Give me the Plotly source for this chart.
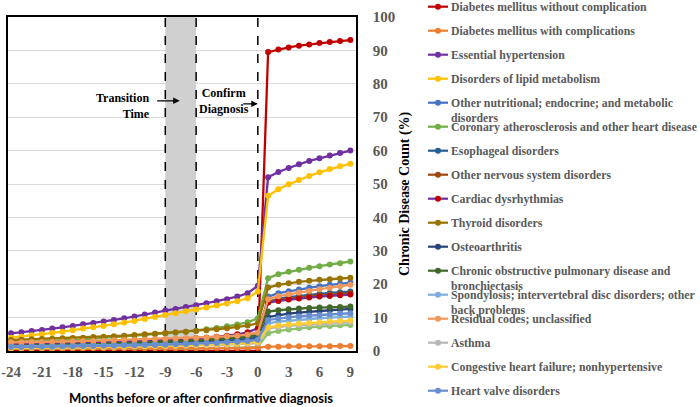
import plotly.graph_objects as go

# months relative to confirmative diagnosis
months = list(range(-24, 10))

# x ticks (plain hyphen like the original)
tick_months = [-24, -21, -18, -15, -12, -9, -6, -3, 0, 3, 6, 9]
tick_labels = ["-24", "-21", "-18", "-15", "-12", "-9", "-6", "-3", "0", "3", "6", "9"]

# ---------------- series values (% of patients), months -24 .. 9 ----------------
dm_no_comp = [0.0, 0.0, 0.0, 0.0, 0.0, 0.0, 0.0, 0.0, 0.0, 0.0, 0.0, 0.0,
              0.0, 0.0, 0.0, 0.0, 0.0, 0.0, 0.0, 0.0, 0.0, 0.0, 0.0, 0.0, 0.0,
              89.5, 90.3, 90.9, 91.4, 91.8, 92.2, 92.5, 92.8, 93.1]
dm_comp = [0.7, 0.7, 0.7, 0.7, 0.7, 0.7, 0.7, 0.7, 0.8, 0.8, 0.8, 0.8,
           0.8, 0.8, 0.8, 0.8, 0.8, 0.8, 0.8, 0.9, 0.9, 0.9, 0.9, 0.9, 1.0,
           1.3, 1.3, 1.4, 1.4, 1.4, 1.4, 1.4, 1.5, 1.5]
hypertension = [5.3, 5.6, 6.0, 6.3, 6.7, 7.1, 7.5, 8.0, 8.4, 8.8, 9.3, 9.8,
                10.3, 10.9, 11.5, 12.1, 12.6, 13.2, 13.7, 14.3, 14.9, 15.5, 16.3, 17.3, 19.5,
                52.0, 53.6, 54.8, 55.9, 56.9, 57.7, 58.5, 59.3, 60.0]
lipid = [4.0, 4.3, 4.7, 5.0, 5.4, 5.8, 6.2, 6.7, 7.1, 7.5, 8.0, 8.5,
         9.0, 9.6, 10.2, 10.8, 11.3, 11.9, 12.4, 13.0, 13.6, 14.2, 14.9, 15.8, 17.8,
         46.5, 48.4, 49.9, 51.2, 52.4, 53.5, 54.5, 55.3, 56.1]
nutritional = [1.9, 1.9, 2.0, 2.0, 2.0, 2.1, 2.1, 2.2, 2.2, 2.3, 2.3, 2.4,
               2.4, 2.5, 2.5, 2.6, 2.7, 2.7, 2.8, 2.9, 3.0, 3.1, 3.2, 3.4, 3.8,
               16.3, 17.3, 17.9, 18.4, 18.9, 19.4, 19.8, 20.2, 20.5]
coronary = [2.5, 2.6, 2.7, 2.9, 3.0, 3.2, 3.3, 3.5, 3.7, 3.9, 4.1, 4.3,
            4.5, 4.7, 5.0, 5.2, 5.5, 5.8, 6.1, 6.5, 6.9, 7.4, 7.9, 8.6, 9.8,
            21.8, 23.0, 23.7, 24.3, 24.9, 25.4, 25.9, 26.3, 26.8]
esophageal = [1.6, 1.7, 1.7, 1.8, 1.8, 1.9, 2.0, 2.0, 2.1, 2.2, 2.2, 2.3,
              2.4, 2.5, 2.6, 2.7, 2.8, 2.9, 3.0, 3.1, 3.3, 3.4, 3.6, 3.8, 4.4,
              14.6, 15.6, 16.1, 16.5, 16.8, 17.1, 17.4, 17.6, 17.8]
nervous = [2.2, 2.3, 2.3, 2.4, 2.4, 2.5, 2.6, 2.6, 2.7, 2.8, 2.9, 3.0,
           3.1, 3.2, 3.3, 3.4, 3.5, 3.7, 3.8, 4.0, 4.1, 4.3, 4.5, 4.8, 5.4,
           14.8, 15.3, 15.7, 16.0, 16.3, 16.6, 16.9, 17.1, 17.3]
cardiac = [1.9, 2.0, 2.0, 2.1, 2.2, 2.2, 2.3, 2.4, 2.5, 2.6, 2.7, 2.8,
           2.9, 3.0, 3.2, 3.3, 3.5, 3.6, 3.8, 4.0, 4.3, 4.6, 5.0, 5.6, 6.8,
           14.5, 15.0, 15.4, 15.7, 16.0, 16.3, 16.5, 16.7, 16.9]
thyroid = [3.3, 3.4, 3.5, 3.6, 3.7, 3.8, 3.9, 4.0, 4.2, 4.3, 4.4, 4.6,
           4.8, 5.0, 5.2, 5.4, 5.6, 5.8, 6.0, 6.2, 6.5, 6.8, 7.2, 7.6, 8.3,
           19.0, 19.8, 20.3, 20.7, 21.0, 21.3, 21.5, 21.7, 21.9]
osteo = [1.3, 1.3, 1.4, 1.4, 1.5, 1.5, 1.6, 1.6, 1.7, 1.7, 1.8, 1.8,
         1.9, 2.0, 2.0, 2.1, 2.2, 2.3, 2.4, 2.5, 2.6, 2.8, 3.0, 3.2, 3.6,
         10.2, 10.8, 11.2, 11.5, 11.8, 12.0, 12.2, 12.4, 12.6]
copd = [1.5, 1.6, 1.6, 1.7, 1.7, 1.8, 1.9, 1.9, 2.0, 2.1, 2.2, 2.3,
        2.4, 2.5, 2.6, 2.7, 2.8, 3.0, 3.1, 3.3, 3.5, 3.7, 4.0, 4.3, 5.0,
        11.8, 12.2, 12.5, 12.7, 12.9, 13.0, 13.1, 13.2, 13.3]
spondylosis = [1.4, 1.4, 1.5, 1.5, 1.5, 1.6, 1.6, 1.7, 1.7, 1.7, 1.8, 1.8,
               1.9, 1.9, 2.0, 2.0, 2.1, 2.2, 2.2, 2.3, 2.4, 2.5, 2.6, 2.8, 3.1,
               8.3, 8.8, 9.1, 9.4, 9.6, 9.8, 10.0, 10.2, 10.3]
residual = [2.6, 2.6, 2.7, 2.7, 2.8, 2.8, 2.9, 3.0, 3.0, 3.1, 3.2, 3.3,
            3.3, 3.4, 3.5, 3.6, 3.7, 3.8, 3.9, 4.0, 4.2, 4.4, 4.6, 4.9, 5.5,
            15.5, 16.4, 17.0, 17.5, 18.0, 18.5, 18.9, 19.4, 19.8]
asthma = [1.0, 1.0, 1.0, 1.1, 1.1, 1.1, 1.2, 1.2, 1.2, 1.3, 1.3, 1.3,
          1.4, 1.4, 1.5, 1.5, 1.6, 1.6, 1.7, 1.7, 1.8, 1.9, 2.0, 2.1, 2.3,
          6.8, 7.2, 7.5, 7.7, 7.9, 8.1, 8.3, 8.5, 8.6]
chf = [0.9, 0.9, 1.0, 1.0, 1.0, 1.1, 1.1, 1.2, 1.2, 1.2, 1.3, 1.3,
       1.4, 1.4, 1.5, 1.5, 1.6, 1.7, 1.8, 1.9, 2.0, 2.1, 2.2, 2.4, 2.7,
       7.1, 7.6, 7.9, 8.2, 8.4, 8.6, 8.8, 9.0, 9.1]
heart_valve = [1.2, 1.2, 1.3, 1.3, 1.3, 1.4, 1.4, 1.5, 1.5, 1.6, 1.6, 1.7,
               1.7, 1.8, 1.8, 1.9, 2.0, 2.1, 2.2, 2.3, 2.4, 2.6, 2.8, 3.0, 3.4,
               9.3, 9.8, 10.1, 10.4, 10.6, 10.8, 11.0, 11.2, 11.3]
# extra series whose legend entry is cut off in the original
extra = [0.5, 0.5, 0.5, 0.5, 0.5, 0.5, 0.6, 0.6, 0.6, 0.6, 0.6, 0.6,
         0.7, 0.7, 0.7, 0.7, 0.7, 0.8, 0.8, 0.8, 0.9, 0.9, 1.0, 1.1, 1.2,
         5.3, 6.0, 6.4, 6.8, 7.1, 7.3, 7.5, 7.7, 7.8]

# (name, values, line colour, marker colour)
series = [
    ("Diabetes mellitus without complication", dm_no_comp, "#C00000", "#C00000"),
    ("Diabetes mellitus with complications", dm_comp, "#ED7D31", "#ED7D31"),
    ("Essential hypertension", hypertension, "#7030A0", "#7030A0"),
    ("Disorders of lipid metabolism", lipid, "#FFC000", "#FFC000"),
    ("Other nutritional; endocrine; and metabolic<br>disorders", nutritional, "#4472C4", "#4472C4"),
    ("Coronary atherosclerosis and other heart disease", coronary, "#70AD47", "#70AD47"),
    ("Esophageal disorders", esophageal, "#255E91", "#255E91"),
    ("Other nervous system disorders", nervous, "#9E480E", "#9E480E"),
    ("Cardiac dysrhythmias", cardiac, "#7030A0", "#C00000"),
    ("Thyroid disorders", thyroid, "#997300", "#997300"),
    ("Osteoarthritis", osteo, "#264478", "#264478"),
    ("Chronic obstructive pulmonary disease and<br>bronchiectasis", copd, "#43682B", "#43682B"),
    ("Spondylosis; intervertebral disc disorders; other<br>back problems", spondylosis, "#7CAFDD", "#7CAFDD"),
    ("Residual codes; unclassified", residual, "#F1975A", "#F1975A"),
    ("Asthma", asthma, "#B7B7B7", "#B7B7B7"),
    ("Congestive heart failure; nonhypertensive", chf, "#FFCD33", "#FFCD33"),
    ("Heart valve disorders", heart_valve, "#698ED0", "#698ED0"),
]

W, H = 700, 407
L, R, T, B = 8, 344, 17, 56
PW, PH = W - L - R, H - T - B

fig = go.Figure()
fig.add_trace(go.Scatter(x=months, y=extra, mode="lines+markers", name="Other",
                         line=dict(color="#8CC168", width=2.3),
                         marker=dict(color="#8CC168", size=6), showlegend=False))
for name, vals, lc, mc in series:
    fig.add_trace(go.Scatter(x=months, y=vals, mode="lines+markers",
                             name=name.replace("<br>", " "),
                             line=dict(color=lc, width=2.3),
                             marker=dict(color=mc, size=6), showlegend=False))

serif = "Liberation Serif"
gray = "#595959"

# shaded transition window and dashed markers
fig.add_shape(type="rect", xref="x", yref="y", x0=-9, x1=-6, y0=0, y1=100,
              fillcolor="#D0D0D0", line_width=0, layer="between")
for xv in [-9, -6, 0]:
    fig.add_shape(type="line", xref="x", yref="y", x0=xv, x1=xv, y0=0, y1=100,
                  line=dict(color="black", width=1.5, dash="dash"), layer="between")

# annotations for the windows
fig.add_annotation(x=-10.3, y=73.5, xref="x", yref="y", text="Transition<br>Time",
                   showarrow=False, xanchor="right", yanchor="middle", align="right",
                   font=dict(family=serif, size=12, color="black", weight="bold"))
fig.add_annotation(x=-3.3, y=74.9, xref="x", yref="y", text="Confirm<br>Diagnosis",
                   showarrow=False, xanchor="center", yanchor="middle", align="center",
                   font=dict(family=serif, size=12, color="black", weight="bold"))
fig.add_annotation(x=-7.6, y=74.9, xref="x", yref="y", text="", showarrow=True,
                   ax=-24, ay=0, arrowhead=2, arrowsize=1, arrowwidth=1.3, arrowcolor="black")
fig.add_annotation(x=0, y=74.0, xref="x", yref="y", text="", showarrow=True,
                   ax=-16, ay=0, arrowhead=2, arrowsize=1, arrowwidth=1.3, arrowcolor="black")

# axis titles
fig.add_annotation(x=(201 - L) / PW, y=(T + PH - 398) / PH, xref="paper", yref="paper",
                   xanchor="center", yanchor="middle",
                   text="Months before or after confirmative diagnosis", showarrow=False,
                   font=dict(family="Lato", size=13, color="black", weight="bold"))
fig.add_annotation(x=(405 - L) / PW, y=(T + PH - 194) / PH, xref="paper", yref="paper",
                   xanchor="center", yanchor="middle",
                   text="Chronic Disease Count (%)", showarrow=False, textangle=-90,
                   font=dict(family=serif, size=14, color="black", weight="bold"))


# hand-built legend (fixed 24px rows like the original)
def px_x(p):
    return (p - L) / PW


def px_y(p):
    return (T + PH - p) / PH


for i, (name, vals, lc, mc) in enumerate(series):
    cy = 6.7 + 24 * i
    fig.add_shape(type="line", xref="paper", yref="paper",
                  x0=px_x(428), x1=px_x(448), y0=px_y(cy), y1=px_y(cy),
                  line=dict(color=lc, width=2.2))
    fig.add_shape(type="circle", xref="paper", yref="paper", xsizemode="pixel", ysizemode="pixel",
                  xanchor=px_x(438), yanchor=px_y(cy), x0=-3, x1=3, y0=-3, y1=3,
                  fillcolor=mc, line=dict(color=mc, width=0))
    fig.add_annotation(x=px_x(449), y=px_y(cy - 8.7), xref="paper", yref="paper",
                       text=name, showarrow=False, xanchor="left", yanchor="top", align="left",
                       font=dict(family=serif, size=11.8, color=gray, weight="bold"))

fig.update_xaxes(range=[-24.3, 9.55], tickvals=tick_months, ticktext=tick_labels,
                 showgrid=False, zeroline=False,
                 showline=True, mirror=True, linecolor="black", linewidth=1.5,
                 ticks="", ticklabelstandoff=6, automargin=False, ticklabeloverflow="allow",
                 tickfont=dict(family=serif, size=15, color=gray, weight="bold"))
fig.update_yaxes(range=[0, 100], dtick=10, side="right", showgrid=True, gridcolor="#D9D9D9",
                 gridwidth=1, zeroline=False, showline=True, mirror=True, linecolor="black",
                 linewidth=1.5, ticks="", ticklabelstandoff=12, automargin=False,
                 ticklabeloverflow="allow",
                 tickfont=dict(family=serif, size=15, color=gray, weight="bold"))

fig.update_layout(width=W, height=H, margin=dict(l=L, r=R, t=T, b=B),
                  plot_bgcolor="white", paper_bgcolor="white", showlegend=False)

# the page body has a default 8px margin; drop it so the figure sits at the window origin
fig.write_html("out.html", config={"displayModeBar": False},
               post_script="document.body.style.margin='0px';")
